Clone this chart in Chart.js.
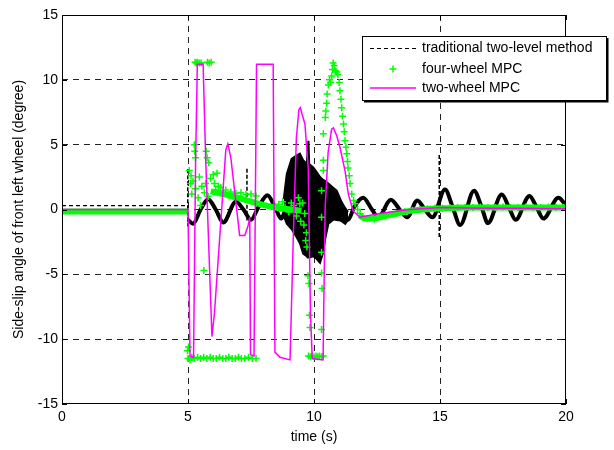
<!DOCTYPE html>
<html>
<head>
<meta charset="utf-8">
<script src="https://cdn.jsdelivr.net/npm/chart.js@4.4.1/dist/chart.umd.min.js"></script>
<style>
  body { margin: 0; background: #fff; }
  #wrap { width: 614px; height: 450px; }
</style>
</head>
<body>
<div id="wrap"><canvas id="slipChart" width="614" height="450"></canvas></div>
<script>
// ==============================
// DATA
// ==============================
const xTicks = [0, 5, 10, 15, 20];
const yTicks = [-15, -10, -5, 0, 5, 10, 15];

const seriesNames = ["traditional two-level method", "four-wheel MPC", "two-wheel MPC"];

// traditional two-level method: dashed part before the manoeuvre
const tradDashT = [0, 5];
const tradDashV = [0.3, 0.3];

// traditional: oscillation after t = 5
const tradT = [5.0, 5.2, 5.5, 5.8, 6.1, 6.4, 6.9, 7.2, 7.5, 7.8, 8.15, 8.45, 8.7, 8.9,
  11.35, 11.6, 11.95, 12.3, 12.55, 13.05, 13.4, 13.7, 14.1, 14.4, 14.7, 15.2, 15.5, 15.8,
  16.35, 16.65, 16.9, 17.45, 17.75, 18.0, 18.55, 18.85, 19.1, 19.7, 20.0];
const tradV = [-0.8, -1.1, 0.0, 0.8, 0.0, -1.0, 0.6, 0.0, -0.8, 0.2, 1.1, 0.2, -0.7, 0.0,
  -0.8, 0.2, 0.9, 0.0, -0.6, 0.75, 0.0, -0.6, 0.7, 0.0, -0.6, 1.55, 0.2, -1.2,
  1.45, 0.2, -1.05, 1.15, 0.1, -0.8, 1.05, 0.1, -0.7, 0.9, 0.3];

// traditional: thin spikes
const spikeT = [4.99, 4.99, null, 7.34, 7.34, null, 14.97, 14.97];
const spikeV = [3.1, -1.3, null, 3.15, -0.85, null, 4.2, -2.2];

// traditional: noisy blob between 9 and 11 s (upper / lower envelope)
const blobT = [8.8, 8.92, 9.11, 9.3, 9.44, 9.57, 9.71, 9.75, 9.78, 9.81, 9.97, 10.1, 10.24,
  10.35, 10.45, 10.57, 10.75, 10.9, 11.1, 11.24, 11.35];
const blobHi = [0.8, 2.75, 3.9, 4.15, 4.3, 3.8, 3.5, 4.5, 5.3, 3.5, 3.25, 2.9, 2.5,
  2.3, 2.2, 2.0, 1.7, 1.45, 0.55, 0.1, -0.2];
const blobLo = [-0.5, -1.1, -1.5, -2.1, -2.6, -3.4, -3.6, -3.7, -3.7, -3.7, -3.6, -3.8, -4.1,
  -3.4, -2.2, -1.1, -0.8, -0.6, -0.9, -1.1, -0.8];

// four-wheel MPC: dense trail of markers (looks like a thick band)
const fourTrailT = [0, 5, null, 5.9, 6.4, 7.0, 7.6, 8.1, 8.6, 9.1, 9.5, null,
  11.8, 12.0, 12.4, 12.8, 13.4, 14.0, 14.6, 15.2, 16, 17, 18, 19, 20];
const fourTrailV = [-0.15, -0.15, null, 1.4, 1.2, 0.9, 0.55, 0.3, 0.1, 0.0, -0.1, null,
  -0.45, -0.7, -0.7, -0.5, -0.25, -0.05, 0.05, 0.1, 0.15, 0.15, 0.15, 0.15, 0.15];

// four-wheel MPC: individual markers
const fourT = [
  5.28, 5.33, 5.38, 5.45, 5.52, 5.77, 5.84, 5.92,
  5.25, 5.27, 5.3, 5.72, 5.76, 5.82, 5.05, 5.12, 5.1, 5.2, 5.3, 5.15, 5.4, 5.5, 5.45, 5.55,
  5.65, 5.7, 5.8, 5.9, 6.0, 6.05, 6.15, 6.2, 6.1, 6.3, 6.5, 6.7, 6.9, 7.1, 7.3, 7.5, 7.7, 6.6, 6.8,
  5.63,
  4.98, 5.02, 5.0, 5.08, 5.15, 5.25, 5.38, 5.5, 5.62, 5.75, 5.88, 6.0, 6.12, 6.25, 6.38, 6.5,
  6.62, 6.75, 6.88, 7.0, 7.12, 7.25, 7.4, 7.55, 7.7,
  8.6, 8.75, 8.85, 9.0, 9.1, 9.2, 9.3, 9.38, 9.44, 9.47, 9.55, 9.6, 9.63, 9.67, 9.7, 9.72,
  9.76, 9.8, 9.82, 9.84, 10.3, 10.3, 10.32, 10.3,
  9.78, 9.85, 9.92, 10.0, 10.08, 10.15, 10.22, 10.3, 10.36,
  10.3, 10.3, 10.37, 10.37, 10.37, 10.45, 10.47, 10.5, 10.52, 10.57, 10.62, 10.66, 10.7, 10.73,
  10.76, 10.8, 10.85, 10.9,
  10.95, 11.0, 11.03, 11.07, 11.1, 11.13, 11.17, 11.2, 11.23, 11.27, 11.3, 11.33, 11.35, 11.4,
  11.43, 11.5, 11.57, 11.63, 11.73, 11.83,
  12.1, 12.4, 12.7, 13.0, 13.3, 13.6, 13.9, 14.2, 14.5, 14.8, 15.1, 15.4, 15.7, 16.0, 16.3,
  16.6, 16.9, 17.2, 17.5, 17.8, 18.1, 18.4, 18.7, 19.0, 19.3, 19.6, 19.9];
const fourV = [
  11.35, 11.3, 11.35, 11.3, 11.3, 11.35, 11.3, 11.35,
  5.0, 4.5, 4.0, 4.5, 4.0, 3.6, 3.0, 2.6, 2.0, 2.2, 1.6, 1.2, 0.9, 0.3, 2.5, 1.8,
  1.3, 2.0, 1.0, 2.4, 2.7, 2.0, 2.8, 1.8, 1.5, 1.7, 1.5, 1.35, 1.25, 1.3, 1.15, 1.2, 1.05, 1.1, 1.0,
  -4.7,
  -10.9, -10.6, -11.5, -11.6, -11.4, -11.5, -11.4, -11.5, -11.4, -11.5, -11.4, -11.5, -11.5, -11.4, -11.5, -11.5,
  -11.4, -11.5, -11.5, -11.4, -11.5, -11.5, -11.4, -11.5, -11.5,
  0.4, 0.6, 0.2, -0.2, 0.5, 0.3, -0.5, 0.9, 0.45, -0.9, 0.5, -1.2, -0.3, -2.4, -1.8, -2.9,
  -5.1, -5.7, -8.15, -9.1, -3.3, -4.9, -6.1, -9.25,
  -11.3, -11.35, -11.3, -11.35, -11.3, -11.35, -11.3, -11.35, -11.3,
  -0.6, 1.45, 3.0, 3.8, 5.85, 7.1, 7.6, 8.2, 8.9, 9.6, 10.0, 9.8, 10.3, 10.8,
  11.3, 11.1, 10.7, 10.6,
  10.4, 9.8, 9.15, 8.5, 7.85, 7.2, 6.6, 6.0, 5.3, 4.8, 4.3, 3.7, 3.2, 2.6,
  2.0, 1.2, 0.7, 0.45, 0.0, -0.3,
  -0.7, -0.75, -0.55, -0.4, -0.3, -0.15, -0.05, 0.0, 0.05, 0.1, 0.1, 0.15, 0.15, 0.15, 0.15,
  0.2, 0.15, 0.15, 0.2, 0.15, 0.15, 0.2, 0.15, 0.15, 0.2, 0.15, 0.15];

// two-wheel MPC
const twoT = [0, 5.0, 5.08, 5.22, 5.3, 5.37, 5.6, 5.7, 5.95, 6.05, 6.3, 6.5, 6.58, 6.7, 6.95,
  7.05, 7.25, 7.38, 7.45, 7.48, 7.62, 7.72, 8.38, 8.45, 8.65, 9.05, 9.18, 9.3, 9.4, 9.46,
  9.52, 9.64, 9.77, 9.86, 9.93, 10.36, 10.44, 10.56, 10.7, 10.77, 10.9, 11.03, 11.23, 11.36,
  11.55, 11.83, 12.6, 13.8, 15.1, 16, 17.1, 18, 19, 20];
const twoV = [0, 0, -11.3, -11.4, 3.5, 11.2, 11.2, 4.0, -9.8, -8.0, -1.0, 4.6, 5.05, 4.0, -0.3,
  -2.0, -2.0, -1.3, -0.6, -11.2, -11.3, 11.2, 11.2, -11.0, -11.4, -11.6, -2.0, 5.5, 7.7, 7.85,
  7.4, 6.6, 3.2, -8.0, -11.5, -11.6, 0.0, 4.4, 6.2, 6.3, 5.7, 4.8, 3.0, 1.2,
  -0.1, -0.6, -0.3, 0.0, 0.15, 0.12, 0.1, 0.1, 0.08, 0.05];

// ==============================
// HELPERS
// ==============================
function pts(t, v) {
  return t.map((x, i) => ({ x: x, y: v[i] }));
}

const GREEN = "#00ff00";
const MAGENTA = "#ff00ff";
const FONT = "'Liberation Sans', Arial, sans-serif";

// ==============================
// PLUGINS
// ==============================
const boxPlugin = {
  id: "boxPlugin",
  afterDatasetsDraw(chart) {
    const { ctx, chartArea: a, scales } = chart;
    ctx.save();
    ctx.strokeStyle = "#000";
    ctx.lineWidth = 1;
    ctx.strokeRect(a.left + 0.5, a.top + 0.5, a.right - a.left - 1, a.bottom - a.top - 1);
    // inward tick marks, matlab style
    ctx.beginPath();
    xTicks.forEach(v => {
      const x = Math.round(scales.x.getPixelForValue(v)) + 0.5;
      ctx.moveTo(x, a.bottom); ctx.lineTo(x, a.bottom - 5);
      ctx.moveTo(x, a.top); ctx.lineTo(x, a.top + 5);
    });
    yTicks.forEach(v => {
      const y = Math.round(scales.y.getPixelForValue(v)) + 0.5;
      ctx.moveTo(a.left, y); ctx.lineTo(a.left + 5, y);
      ctx.moveTo(a.right, y); ctx.lineTo(a.right - 5, y);
    });
    ctx.stroke();
    ctx.restore();
  },
  afterDraw(chart) {
    // legend box (sticks out past the axes like in the figure)
    const ctx = chart.ctx;
    const bx = 362, by = 36, bw = 244, bh = 64;
    ctx.save();
    ctx.fillStyle = "#fff";
    ctx.fillRect(bx, by, bw, bh);
    ctx.strokeStyle = "#000";
    ctx.lineWidth = 1;
    ctx.strokeRect(bx + 0.5, by + 0.5, bw, bh);
    ctx.lineWidth = 2;
    ctx.beginPath();
    ctx.moveTo(bx + bw + 1.5, by + 2); ctx.lineTo(bx + bw + 1.5, by + bh + 1.5); ctx.lineTo(bx + 2, by + bh + 1.5);
    ctx.stroke();

    const rows = [48, 69, 88];
    // dashed black
    ctx.lineWidth = 1;
    ctx.setLineDash([4, 3]);
    ctx.beginPath(); ctx.moveTo(370, rows[0] + 0.5); ctx.lineTo(416, rows[0] + 0.5); ctx.stroke();
    ctx.setLineDash([]);
    // green cross
    ctx.strokeStyle = GREEN;
    ctx.lineWidth = 1.5;
    ctx.beginPath();
    ctx.moveTo(393, rows[1] - 3.5); ctx.lineTo(393, rows[1] + 3.5);
    ctx.moveTo(389.5, rows[1]); ctx.lineTo(396.5, rows[1]);
    ctx.stroke();
    // magenta line
    ctx.strokeStyle = MAGENTA;
    ctx.lineWidth = 1.5;
    ctx.beginPath(); ctx.moveTo(370, rows[2]); ctx.lineTo(416, rows[2]); ctx.stroke();

    ctx.fillStyle = "#000";
    ctx.font = "14px " + FONT;
    ctx.textBaseline = "middle";
    seriesNames.forEach((s, i) => ctx.fillText(s, 422, rows[i]));
    ctx.restore();
  }
};

// ==============================
// CHART
// ==============================
const ctx = document.getElementById("slipChart").getContext("2d");

const chart = new Chart(ctx, {
  type: "line",
  data: {
    datasets: [
      {
        label: seriesNames[2],
        data: pts(twoT, twoV),
        borderColor: MAGENTA,
        borderWidth: 1.5,
        pointRadius: 0,
        tension: 0,
        order: 0
      },
      {
        label: seriesNames[1],
        data: pts(fourT, fourV),
        showLine: false,
        pointStyle: "cross",
        pointRadius: 3.5,
        pointBorderWidth: 1.5,
        pointBorderColor: GREEN,
        borderColor: GREEN,
        order: 1
      },
      {
        label: "four-wheel trail",
        data: pts(fourTrailT, fourTrailV),
        borderColor: GREEN,
        borderWidth: 6,
        pointRadius: 0,
        spanGaps: false,
        order: 2
      },
      {
        label: seriesNames[0],
        data: pts(tradDashT, tradDashV),
        borderColor: "#000",
        borderWidth: 1.2,
        borderDash: [4, 3],
        pointRadius: 0,
        order: 3
      },
      {
        label: "trad wave",
        data: pts(tradT, tradV),
        borderColor: "#000",
        borderWidth: 4,
        pointRadius: 0,
        cubicInterpolationMode: "monotone",
        order: 4
      },
      {
        label: "trad spikes",
        data: pts(spikeT, spikeV),
        borderColor: "#000",
        borderWidth: 1.5,
        borderDash: [4, 2],
        pointRadius: 0,
        spanGaps: false,
        order: 5
      },
      {
        label: "blob hi",
        data: pts(blobT, blobHi),
        borderColor: "#000",
        borderWidth: 2,
        pointRadius: 0,
        order: 6
      },
      {
        label: "blob lo",
        data: pts(blobT, blobLo),
        borderColor: "#000",
        backgroundColor: "#000",
        borderWidth: 2,
        pointRadius: 0,
        fill: "-1",
        order: 7
      }
    ]
  },
  options: {
    responsive: false,
    animation: false,
    events: [],
    layout: { padding: { top: 15, right: 48, left: 0, bottom: 0 } },
    plugins: {
      legend: { display: false },
      tooltip: { enabled: false }
    },
    scales: {
      x: {
        type: "linear",
        min: 0,
        max: 20,
        afterFit(s) { s.height = 46; },
        afterBuildTicks(s) { s.ticks = xTicks.map(v => ({ value: v })); },
        ticks: { color: "#000", padding: 5, font: { family: FONT, size: 14 } },
        grid: {
          drawTicks: false,
          color: c => (c.tick && (c.tick.value === 0 || c.tick.value === 20)) ? "rgba(0,0,0,0)" : "#222",
          lineWidth: 1
        },
        border: { display: false, dash: [6, 5] },
        title: {
          display: true,
          text: "time (s)",
          color: "#000",
          font: { family: FONT, size: 14 },
          padding: { top: 0, bottom: 4 }
        }
      },
      y: {
        min: -15,
        max: 15,
        afterFit(s) { s.width = 62; },
        afterBuildTicks(s) { s.ticks = yTicks.map(v => ({ value: v })); },
        ticks: { color: "#000", padding: 4, font: { family: FONT, size: 14 } },
        grid: {
          drawTicks: false,
          color: c => (c.tick && Math.abs(c.tick.value) === 15) ? "rgba(0,0,0,0)" : "#222",
          lineWidth: 1
        },
        border: { display: false, dash: [6, 5] },
        title: {
          display: true,
          text: "Side-slip angle of front left wheel (degree)",
          color: "#000",
          font: { family: FONT, size: 14 },
          padding: { top: 11, bottom: 0 }
        }
      }
    }
  },
  plugins: [boxPlugin]
});
</script>
</body>
</html>
